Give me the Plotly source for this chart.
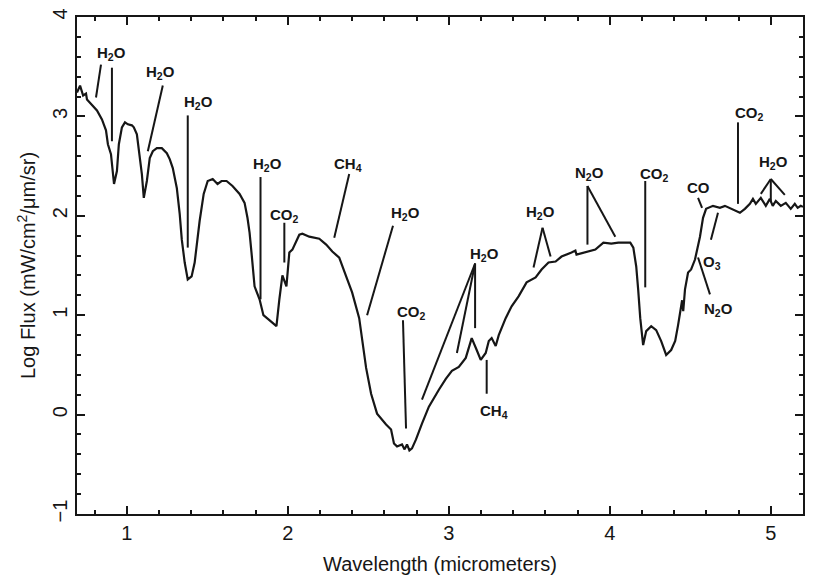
import plotly.graph_objects as go

# ---- spectrum (wavelength in micrometers, log flux) ----
WAVELENGTH = [0.69, 0.709, 0.728, 0.746, 0.752, 0.783, 0.814, 0.845, 0.870, 0.882, 0.901, 0.920,
              0.938, 0.950, 0.969, 0.988, 1.006, 1.031, 1.043, 1.062, 1.074, 1.093, 1.105, 1.124,
              1.142, 1.161, 1.186, 1.217, 1.248, 1.266, 1.285, 1.310, 1.328, 1.341, 1.359, 1.378,
              1.402, 1.421, 1.452, 1.477, 1.502, 1.533, 1.563, 1.588, 1.619, 1.656, 1.700, 1.731,
              1.749, 1.762, 1.774, 1.793, 1.824, 1.848, 1.885, 1.929, 1.947, 1.966, 1.991, 2.009,
              2.028, 2.053, 2.071, 2.090, 2.133, 2.195, 2.238, 2.276, 2.319, 2.362, 2.399, 2.443,
              2.461, 2.486, 2.517, 2.554, 2.610, 2.641, 2.659, 2.678, 2.709, 2.725, 2.740, 2.755,
              2.771, 2.796, 2.833, 2.876, 2.938, 2.981, 3.019, 3.062, 3.105, 3.142, 3.173, 3.198,
              3.229, 3.248, 3.266, 3.291, 3.310, 3.353, 3.390, 3.433, 3.483, 3.539, 3.576, 3.619,
              3.663, 3.700, 3.762, 3.786, 3.793, 3.848, 3.910, 3.960, 4.009, 4.053, 4.096, 4.127,
              4.146, 4.164, 4.176, 4.189, 4.207, 4.226, 4.257, 4.288, 4.319, 4.350, 4.381, 4.406,
              4.424, 4.440, 4.449, 4.456, 4.467, 4.486, 4.505, 4.529, 4.560, 4.579, 4.598, 4.641,
              4.684, 4.715, 4.752, 4.808, 4.839, 4.870, 4.889, 4.907, 4.938, 4.969, 4.994, 5.012,
              5.031, 5.062, 5.093, 5.124, 5.149, 5.167, 5.186, 5.200]
LOG_FLUX = [3.24, 3.31, 3.21, 3.23, 3.17, 3.12, 3.06, 2.97, 2.86, 2.72, 2.62, 2.32,
            2.45, 2.72, 2.89, 2.94, 2.92, 2.91, 2.89, 2.82, 2.65, 2.42, 2.18, 2.35,
            2.58, 2.65, 2.68, 2.68, 2.63, 2.57, 2.48, 2.28, 2.02, 1.76, 1.53, 1.36,
            1.39, 1.53, 1.95, 2.22, 2.35, 2.37, 2.32, 2.35, 2.35, 2.30, 2.22, 2.13,
            1.98, 1.83, 1.63, 1.29, 1.16, 1.00, 0.95, 0.89, 1.16, 1.40, 1.29, 1.63,
            1.66, 1.74, 1.81, 1.82, 1.79, 1.77, 1.71, 1.64, 1.58, 1.39, 1.23, 0.97,
            0.74, 0.47, 0.21, 0.01, -0.10, -0.15, -0.29, -0.32, -0.30, -0.35, -0.30, -0.36,
            -0.34, -0.25, -0.09, 0.08, 0.25, 0.36, 0.44, 0.48, 0.57, 0.77, 0.65, 0.55,
            0.62, 0.74, 0.77, 0.69, 0.80, 0.97, 1.09, 1.19, 1.33, 1.38, 1.46, 1.53,
            1.54, 1.59, 1.63, 1.65, 1.61, 1.63, 1.66, 1.73, 1.72, 1.73, 1.73, 1.73,
            1.68, 1.49, 1.26, 0.97, 0.70, 0.84, 0.89, 0.85, 0.74, 0.60, 0.65, 0.74,
            0.90, 1.04, 1.15, 1.04, 1.26, 1.43, 1.46, 1.56, 1.79, 1.98, 2.07, 2.10,
            2.08, 2.10, 2.07, 2.03, 2.07, 2.12, 2.17, 2.12, 2.18, 2.10, 2.17, 2.10,
            2.15, 2.10, 2.13, 2.07, 2.12, 2.08, 2.10, 2.09]

# ---- absorber labels ----
LABEL_TEXT = ["H<sub>2</sub>O", "H<sub>2</sub>O", "H<sub>2</sub>O", "H<sub>2</sub>O", "CO<sub>2</sub>",
              "CH<sub>4</sub>", "H<sub>2</sub>O", "CO<sub>2</sub>", "H<sub>2</sub>O", "CH<sub>4</sub>",
              "H<sub>2</sub>O", "N<sub>2</sub>O", "CO<sub>2</sub>", "CO", "O<sub>3</sub>",
              "N<sub>2</sub>O", "CO<sub>2</sub>", "H<sub>2</sub>O"]
LABEL_X = [0.907, 1.21, 1.446, 1.873, 1.978, 2.375, 2.728, 2.771, 3.223, 3.279,
           3.570, 3.873, 4.276, 4.548, 4.635, 4.678, 4.870, 5.019]
LABEL_Y = [3.63, 3.44, 3.14, 2.52, 2.00, 2.52, 2.02, 1.03, 1.61, 0.03,
           2.03, 2.43, 2.42, 2.28, 1.53, 1.06, 3.03, 2.54]

# ---- pointer lines (start / end) ----
LINE_X0 = [0.839, 0.907, 1.223, 1.378, 1.830, 1.978, 2.381, 2.653, 2.715, 3.163, 3.163, 3.163,
           3.235, 3.582, 3.582, 3.861, 3.861, 4.220, 4.548, 4.672, 4.548, 4.796, 5.000, 5.000, 5.000]
LINE_Y0 = [3.52, 3.49, 3.31, 3.01, 2.39, 1.93, 2.42, 1.90, 0.95, 1.52, 1.52, 1.52,
           0.55, 1.88, 1.88, 2.30, 2.30, 2.35, 2.18, 2.03, 1.58, 2.94, 2.37, 2.37, 2.37]
LINE_X1 = [0.808, 0.907, 1.130, 1.378, 1.830, 1.978, 2.288, 2.492, 2.734, 2.833, 3.050, 3.163,
           3.235, 3.526, 3.632, 3.861, 4.034, 4.220, 4.573, 4.628, 4.622, 4.796, 4.938, 5.087, 5.000]
LINE_Y1 = [3.19, 2.75, 2.65, 1.68, 1.16, 1.53, 1.78, 1.00, -0.14, 0.15, 0.62, 0.87,
           0.21, 1.48, 1.59, 1.71, 1.79, 1.28, 2.08, 1.76, 1.21, 2.12, 2.22, 2.21, 2.15]

INK = "#161616"
FONT = "Liberation Sans, Arial, sans-serif"

fig = go.Figure()
fig.add_trace(go.Scatter(x=WAVELENGTH, y=LOG_FLUX, mode="lines",
                         line=dict(color=INK, width=2.2), showlegend=False, hoverinfo="skip"))

px_, py_ = [], []
for a, b, c, d in zip(LINE_X0, LINE_Y0, LINE_X1, LINE_Y1):
    px_ += [a, c, None]
    py_ += [b, d, None]
fig.add_trace(go.Scatter(x=px_, y=py_, mode="lines",
                         line=dict(color=INK, width=2), showlegend=False, hoverinfo="skip"))

for t, x, y in zip(LABEL_TEXT, LABEL_X, LABEL_Y):
    fig.add_annotation(x=x, y=y, text=t, showarrow=False, xanchor="center", yanchor="middle",
                       font=dict(family=FONT, size=15, color=INK, weight="bold"))

axis_common = dict(showgrid=False, zeroline=False, showline=True, linewidth=2, linecolor=INK,
                   mirror="allticks", ticks="inside", ticklen=8, tickwidth=1.5, tickcolor=INK,
                   tickfont=dict(family=FONT, size=20, color=INK))

fig.update_xaxes(range=[0.69, 5.2], tick0=0, dtick=1,
                 minor=dict(dtick=0.2, ticks="inside", ticklen=4, tickwidth=1.5, tickcolor=INK, showgrid=False),
                 title=dict(text="Wavelength (micrometers)", standoff=14,
                            font=dict(family=FONT, size=20, color=INK)),
                 **axis_common)
fig.update_yaxes(range=[-1, 4], tick0=0, dtick=1, tickangle=-90,
                 minor=dict(dtick=0.2, ticks="inside", ticklen=4, tickwidth=1.5, tickcolor=INK, showgrid=False),
                 title=dict(text="Log Flux (mW/cm<sup>2</sup>/\u03bcm/sr)", standoff=8,
                            font=dict(family=FONT, size=20, color=INK)),
                 **axis_common)

fig.update_layout(width=813, height=580, margin=dict(l=77, r=8, t=13, b=61),
                  paper_bgcolor="white", plot_bgcolor="white", showlegend=False)

fig.write_html("out.html")
